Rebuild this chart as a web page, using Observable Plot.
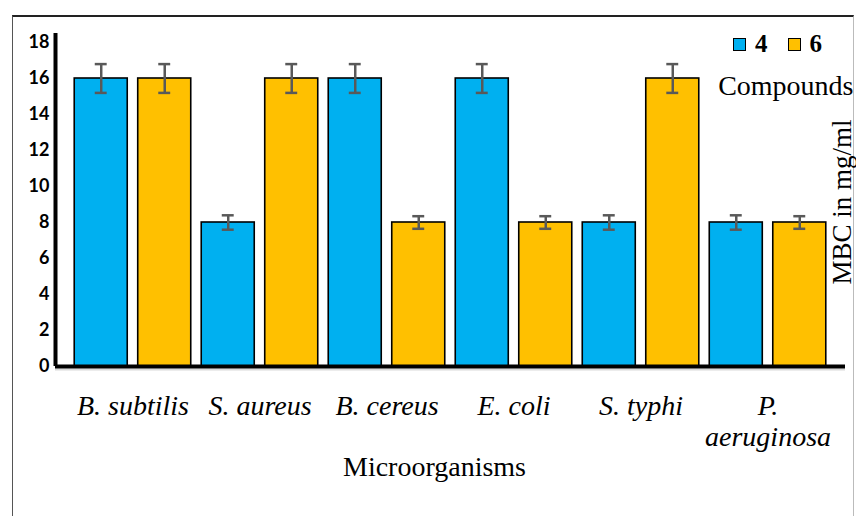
<!DOCTYPE html>
<html><head><meta charset="utf-8">
<script src="https://cdn.jsdelivr.net/npm/d3@7"></script>
<script src="https://cdn.jsdelivr.net/npm/@observablehq/plot@0.6"></script>
<style>
html,body{margin:0;padding:0;background:#fff;}
#wrap{position:relative;width:856px;height:516px;overflow:hidden;}
#frame{position:absolute;left:12px;top:15px;width:842px;height:540px;border-top:2px solid #222;border-left:1.5px solid #555;border-right:1px solid #bbb;box-sizing:border-box;}
#chart{position:absolute;left:0;top:0;}
#legend{position:absolute;left:733px;top:30px;font-family:"Liberation Serif","Times New Roman",Tinos,"DejaVu Serif",serif;font-weight:bold;font-size:25px;display:flex;align-items:center;}
#legend .sw{display:inline-block;width:11px;height:11px;border:1.5px solid #000;margin-right:9px;}
#legend .it{display:flex;align-items:center;margin-right:20px;}
</style></head>
<body>
<div id="wrap">
  <div id="frame"></div>
  <div id="chart"></div>
  <div id="legend"></div>
</div>
<script>
const groups = ["B. subtilis","S. aureus","B. cereus","E. coli","S. typhi","P.\naeruginosa"];
const compounds = ["4","6"];
const mbc4 = [16, 8, 16, 16, 8, 8];
const mbc6 = [16, 16, 8, 8, 16, 8];
const err4 = [0.8, 0.4, 0.8, 0.8, 0.4, 0.4];
const err6 = [0.8, 0.8, 0.35, 0.35, 0.8, 0.35];
const colors = ["#00B0F0", "#FFC000"];
const yTicks = [0, 2, 4, 6, 8, 10, 12, 14, 16, 18];
const xLabel = "Microorganisms";
const yLabel = "MBC in mg/ml";
const legendTitle = "Compounds";

const serif = "Liberation Serif, Times New Roman, Tinos, DejaVu Serif, serif";
const xMin = -0.61, xMax = 5.61;
const half = 0.2087, cap = 0.047;

const rows = groups.flatMap((g, i) => [
  {i, c: compounds[0], k: 0, v: mbc4[i], e: err4[i]},
  {i, c: compounds[1], k: 1, v: mbc6[i], e: err6[i]}
]).map(d => ({...d, pos: d.i - 0.25 + 0.5 * d.k}));

const chart = Plot.plot({
  width: 856, height: 516,
  marginLeft: 55, marginRight: 11, marginTop: 33, marginBottom: 150,
  style: {background: "transparent", overflow: "visible"},
  x: {domain: [xMin, xMax]},
  y: {domain: [0, 18.5]},
  color: {domain: compounds, range: colors},
  marks: [
    Plot.rectY(rows, {x1: d => d.pos - half, x2: d => d.pos + half, y: "v", fill: "c", stroke: "#000", strokeWidth: 1.6}),
    Plot.ruleX(rows, {x: "pos", y1: d => d.v - d.e, y2: d => d.v + d.e, stroke: "#595959", strokeWidth: 2.5}),
    Plot.ruleY(rows, {y: d => d.v + d.e, x1: d => d.pos - cap, x2: d => d.pos + cap, stroke: "#595959", strokeWidth: 2.5}),
    Plot.ruleY(rows, {y: d => d.v - d.e, x1: d => d.pos - cap, x2: d => d.pos + cap, stroke: "#595959", strokeWidth: 2.5}),
    Plot.ruleY([0], {stroke: "#d9d9d9", strokeWidth: 2, dy: 3}),
    Plot.ruleY([0], {stroke: "#000", strokeWidth: 4}),
    Plot.ruleX([xMin], {stroke: "#000", strokeWidth: 4}),
    Plot.axisY({ticks: yTicks, tickSize: 0, tickPadding: 6, fontSize: 18, fontWeight: "bold", fontFamily: "Lato, Open Sans, sans-serif", fill: "#000", label: null}),
    Plot.axisX({ticks: d3.range(groups.length), tickFormat: i => groups[i], tickSize: 0, tickPadding: 26, fontSize: 28, fontStyle: "italic", fontFamily: serif, lineHeight: 1.12, fill: "#000", label: null}),
    Plot.text([xLabel], {frameAnchor: "bottom", textAnchor: "middle", lineAnchor: "middle", dy: 101, dx: -16, fontSize: 28, fontFamily: serif, fill: "#000"}),
    Plot.text([yLabel], {frameAnchor: "right", textAnchor: "middle", lineAnchor: "middle", rotate: -90, dx: -3, dy: 2, fontSize: 27, fontFamily: serif, fill: "#000"}),
    Plot.text([legendTitle], {frameAnchor: "top-right", textAnchor: "end", lineAnchor: "middle", dx: 8, dy: 53, fontSize: 28, fontFamily: serif, fill: "#000"})
  ]
});
document.getElementById("chart").appendChild(chart);

const leg = document.getElementById("legend");
compounds.forEach((c, k) => {
  const it = document.createElement("span");
  it.className = "it";
  const sw = document.createElement("span");
  sw.className = "sw";
  sw.style.background = colors[k];
  it.appendChild(sw);
  it.appendChild(document.createTextNode(c));
  leg.appendChild(it);
});
</script>
</body></html>
